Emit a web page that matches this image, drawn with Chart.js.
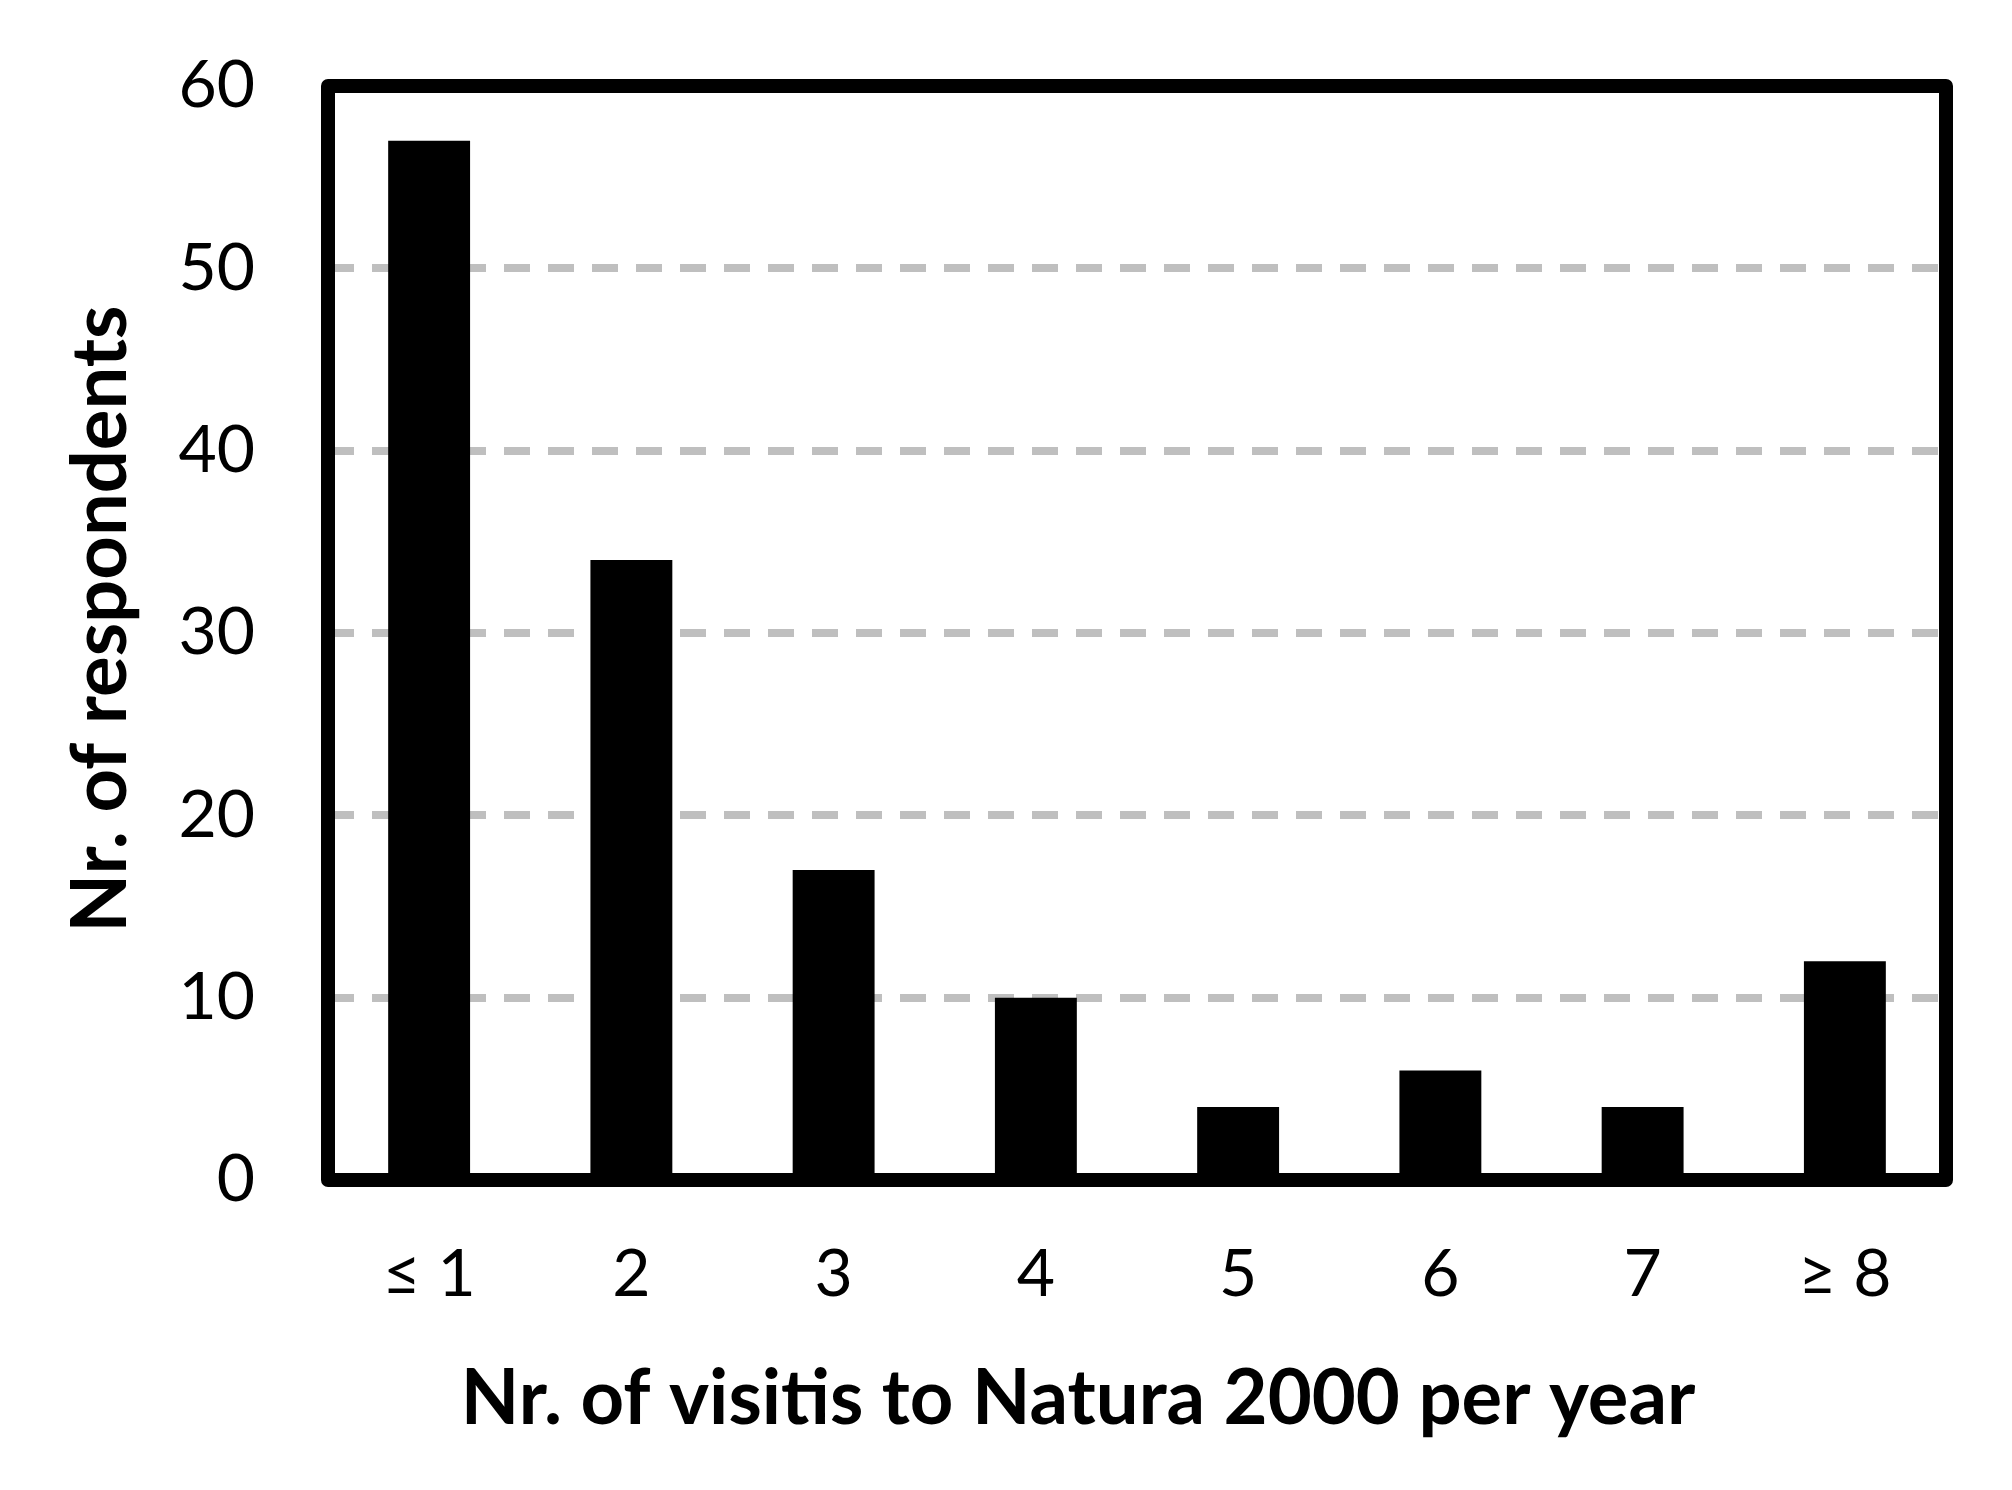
<!DOCTYPE html>
<html>
<head>
<meta charset="utf-8">
<script src="https://cdn.jsdelivr.net/npm/chart.js@4.4.1/dist/chart.umd.min.js"></script>
<style>
  html, body { margin: 0; padding: 0; background: #fff; }
  #wrap { width: 2012px; height: 1490px; }
</style>
</head>
<body>
<div id="wrap"><canvas id="myChart" width="2012" height="1490"></canvas></div>
<script>
// data
const categories = ['\u2264 1', '2', '3', '4', '5', '6', '7', '\u2265 8'];
const respondents = [57, 34, 17, 10, 4, 6, 4, 12];
const yTicks = [0, 10, 20, 30, 40, 50, 60];

const xTitle = 'Nr. of visitis to Natura 2000 per year';
const yTitle = 'Nr. of respondents';

const FONT = 'Lato, "Open Sans", sans-serif';

// plot box in the original picture
const AREA = { left: 328, top: 86, right: 1946, bottom: 1180 };

// thick black frame round the plot area
const frame = {
    id: 'frame',
    afterDatasetsDraw(chart) {
        const a = chart.chartArea;
        const ctx = chart.ctx;
        ctx.save();
        ctx.strokeStyle = '#000';
        ctx.lineWidth = 14;
        ctx.lineJoin = 'round';
        ctx.strokeRect(a.left, a.top, a.right - a.left, a.bottom - a.top);
        ctx.restore();
    }
};

// axis titles, placed like the original
const axisTitles = {
    id: 'axisTitles',
    afterDraw(chart) {
        const a = chart.chartArea;
        const ctx = chart.ctx;
        ctx.save();
        ctx.fillStyle = '#000';
        ctx.font = 'bold 76px ' + FONT;
        ctx.textAlign = 'center';
        ctx.textBaseline = 'alphabetic';
        ctx.fillText(xTitle, (a.left + a.right) / 2 - 59, 1424);
        ctx.translate(126, (a.top + a.bottom) / 2 - 14);
        ctx.rotate(-Math.PI / 2);
        ctx.fillText(yTitle, 0, 0);
        ctx.restore();
    }
};

const data = {
    labels: categories,
    datasets: [{
        data: respondents,
        backgroundColor: '#000',
        borderWidth: 0,
        barPercentage: 0.405,
        categoryPercentage: 1
    }]
};

const config = {
    type: 'bar',
    data: data,
    options: {
        responsive: false,
        animation: false,
        layout: { padding: { top: AREA.top, right: 2012 - AREA.right, left: 0, bottom: 0 } },
        plugins: {
            legend: { display: false },
            tooltip: { enabled: false }
        },
        scales: {
            x: {
                grid: { display: false, drawTicks: false },
                border: { display: false },
                ticks: {
                    color: '#000',
                    padding: 55,
                    font: { family: FONT, size: 66 }
                },
                afterFit(scale) { scale.height = 1490 - AREA.bottom; }
            },
            y: {
                min: yTicks[0],
                max: yTicks[yTicks.length - 1],
                afterBuildTicks(scale) {
                    scale.ticks = yTicks.map(v => ({ value: v }));
                },
                grid: {
                    color: '#BFBFBF',
                    lineWidth: 8,
                    drawTicks: true,
                    tickLength: 73,
                    tickColor: 'rgba(0,0,0,0)'
                },
                border: { display: false, dash: [26, 18] },
                ticks: {
                    color: '#000',
                    padding: 0,
                    font: { family: FONT, size: 66 }
                },
                afterFit(scale) { scale.width = AREA.left; }
            }
        }
    },
    plugins: [frame, axisTitles]
};

const myChart = new Chart(document.getElementById('myChart'), config);
</script>
</body>
</html>
